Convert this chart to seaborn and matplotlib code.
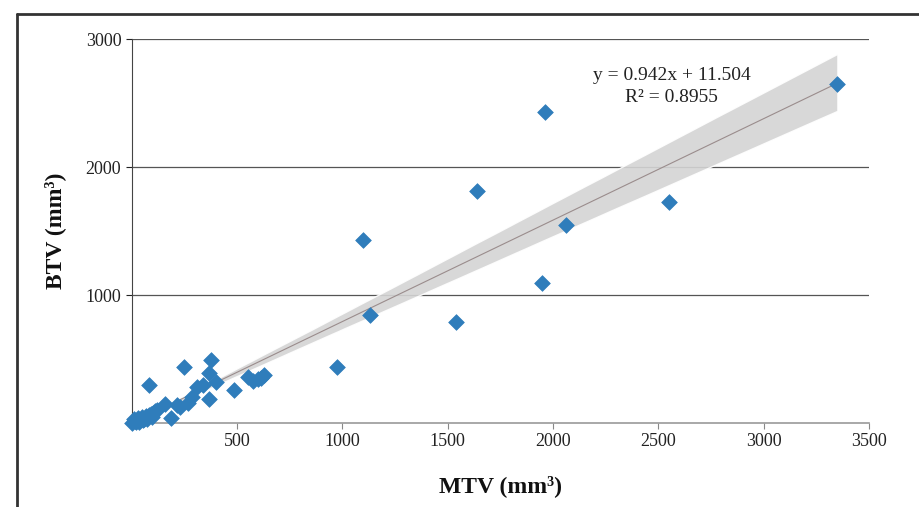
import matplotlib
matplotlib.use("Agg")
import matplotlib.pyplot as plt
from matplotlib.lines import Line2D
import numpy as np
import pandas as pd
import seaborn as sns

# values
mtv = [3350, 1960, 1640, 2550, 2060, 1100, 1950, 1130, 1540, 975,
       375, 250, 80, 365, 400, 485, 365, 340, 310, 287,
       267, 216, 159, 187, 230, 550, 575, 600, 615, 630,
       0, 10, 20, 30, 40, 50, 60, 70, 80, 90,
       100, 110, 120, 15, 35, 55, 75, 95]
btv = [2650, 2430, 1810, 1730, 1550, 1430, 1090, 840, 790, 440,
       490, 440, 300, 390, 320, 260, 190, 296, 280, 205,
       160, 140, 150, 40, 125, 360, 330, 345, 355, 375,
       0, 30, 10, 40, 20, 45, 30, 55, 65, 70,
       80, 95, 100, 15, 5, 20, 35, 50]
x_ticks = [500, 1000, 1500, 2000, 2500, 3000, 3500]
y_ticks = [1000, 2000, 3000]
eq_text = "y = 0.942x + 11.504"
r2_text = "R² = 0.8955"

df = pd.DataFrame({"MTV": mtv, "BTV": btv})

sns.set_theme(style="white")
plt.rcParams['font.family'] = ['Liberation Serif', 'DejaVu Serif']

fig = plt.figure(figsize=(9.19, 5.07), dpi=100)
ax = fig.add_axes([131.7 / 919, 1 - 423 / 507, (869 - 131.7) / 919, (423 - 39) / 507])

sns.regplot(data=df, x="MTV", y="BTV", ax=ax, scatter=False, ci=68, seed=3,
            n_boot=2000, line_kws={"color": "#9a8c8c", "lw": 0.8}, color="#b8b8b8")
for coll in ax.collections:
    coll.set_facecolor("#d4d4d4")
    coll.set_alpha(0.9)
sns.scatterplot(data=df, x="MTV", y="BTV", ax=ax, marker="D", s=64,
                color="#2f7dbb", edgecolor="#2f7dbb", linewidth=0.5, zorder=3, clip_on=False)

ax.set_xlim(0, 3500)
ax.set_ylim(0, 3000)
ax.set_xticks(x_ticks)
ax.set_yticks(y_ticks)
ax.tick_params(axis="both", labelsize=13, colors="#222222", length=4, width=0.8,
               direction="out", left=True, bottom=True)
ax.tick_params(axis="x", colors="#888888", labelcolor="#222222")
ax.yaxis.grid(True, color="#555555", lw=0.9)
ax.xaxis.grid(False)
for s in ["top", "right"]:
    ax.spines[s].set_visible(False)
ax.spines["left"].set_color("#444444")
ax.spines["left"].set_linewidth(0.8)
ax.spines["bottom"].set_color("#999999")
ax.spines["bottom"].set_linewidth(1.2)

ax.set_xlabel("MTV (mm³)", fontsize=17, fontweight="bold", labelpad=18, color="#111111")
ax.set_ylabel("BTV (mm³)", fontsize=17, fontweight="bold", labelpad=14, color="#111111")

ax.text(2564, 2712, eq_text, ha="center", va="center", fontsize=14, color="#222222")
ax.text(2564, 2541, r2_text, ha="center", va="center", fontsize=14, color="#222222")

# outer frame of the original figure
fig.add_artist(Line2D([17 / 919, 1], [1 - 14 / 507] * 2, color="#333333", lw=2))
fig.add_artist(Line2D([17 / 919] * 2, [0, 1 - 14 / 507], color="#333333", lw=2))

fig.savefig("out.png", dpi=100)
